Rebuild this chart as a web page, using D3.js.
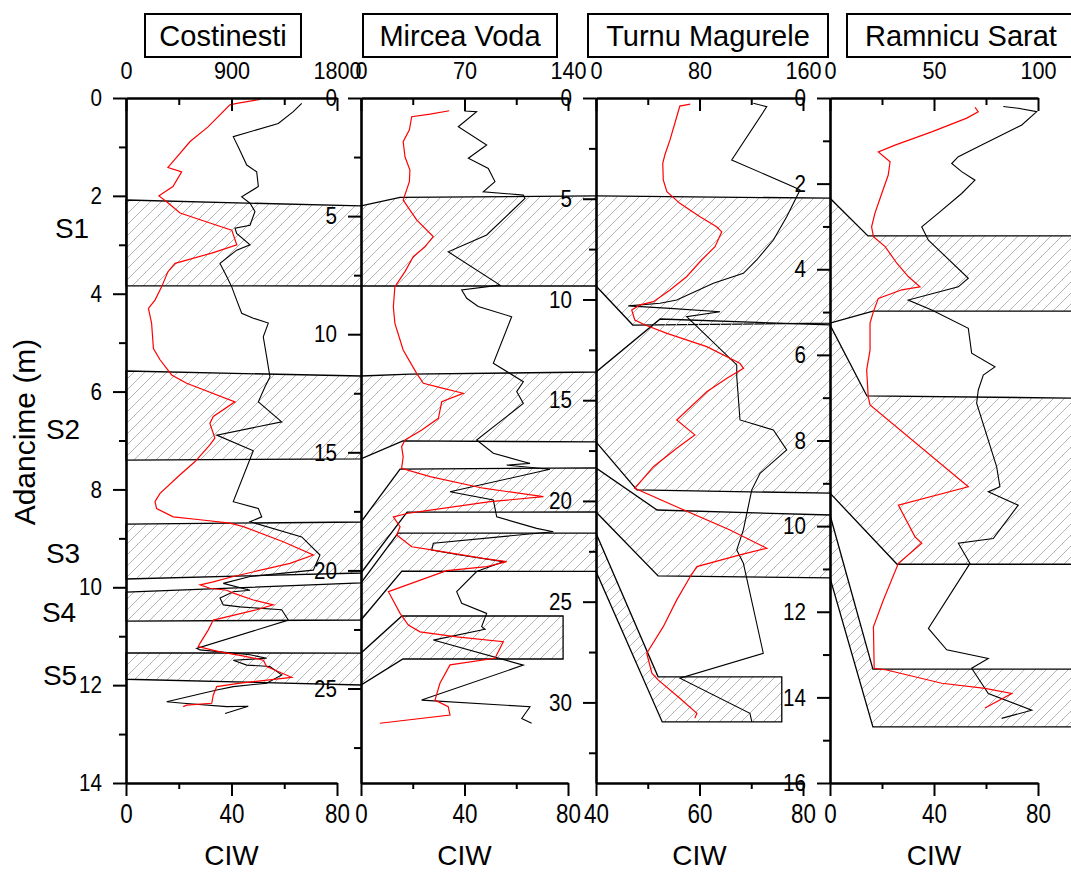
<!DOCTYPE html>
<html>
<head>
<meta charset="utf-8">
<script src="https://cdn.jsdelivr.net/npm/d3@7"></script>
<style>
  body { margin: 0; background: #fff; }
  svg { display: block; }
  text { font-family: "Liberation Sans", Arial, sans-serif; fill: #000; }
</style>
</head>
<body>
<svg id="chart" width="1071" height="872"></svg>
<script>
// sites and axes
const sites = ['Costinesti', 'Mircea Voda', 'Turnu Magurele', 'Ramnicu Sarat'];
const ciwDomains = [[0, 80], [0, 80], [40, 80], [0, 80]];
const ciwMajor = [[0, 40, 80], [0, 40, 80], [40, 60, 80], [0, 40, 80]];
const ciwMinor = [[20, 60], [20, 60], [50, 70], [20, 60]];
const topDomains = [[0, 1800], [0, 140], [0, 160], [0, 100]];
const topMajor = [[0, 900, 1800], [0, 70, 140], [0, 80, 160], [0, 50, 100]];
const topMinor = [[450, 1350], [35, 105], [40, 120], [25, 75]];
const depthMax = [14, 29, 34, 16];
const depthStep = [2, 5, 5, 2];
const layers = ['S1', 'S2', 'S3', 'S4', 'S5'];
const layerDepth = [2.66, 6.76, 9.3, 10.5, 11.79];

// series: [depth, value]; red = CIW (bottom axis), black = top axis
const costinestiRed = [[0.03,50.8],[0.11,42.0],[0.14,39.4],[0.59,31.1],[0.89,24.3],[1.30,17.8],[1.42,15.9],[1.51,21.1],[1.81,17.8],[2.00,12.5],[2.12,15.4],[2.35,20.5],[2.60,34.4],[2.70,40.1],[3.00,42.0],[3.17,32.5],[3.38,18.6],[3.55,15.9],[3.86,13.5],[4.13,11.0],[4.30,8.5],[4.60,9.7],[5.12,10.4],[5.35,12.9],[5.66,17.3],[5.83,23.0],[6.21,41.3],[6.51,33.1],[6.65,31.8],[6.95,33.7],[7.09,31.8],[7.43,26.2],[7.70,20.5],[8.08,12.9],[8.25,11.0],[8.39,11.6],[8.56,17.9],[8.62,28.1],[8.69,39.4],[8.76,44.5],[9.07,59.6],[9.34,71.0],[9.51,62.2],[9.78,40.7],[9.89,33.1],[9.95,28.1],[10.02,31.8],[10.06,38.2],[10.12,40.7],[10.26,48.3],[10.36,55.8],[10.46,49.6],[10.67,33.1],[10.87,31.2],[11.14,28.1],[11.21,27.4],[11.32,35.6],[11.39,43.2],[11.49,52.1],[11.62,53.3],[11.84,62.8],[11.93,48.3],[11.96,43.2],[12.03,34.4],[12.20,33.1],[12.37,32.5],[12.41,23.0],[12.44,21.7]];
const costinestiBlack = [[0.11,1499],[0.28,1427],[0.52,1299],[0.79,915],[1.00,958],[1.37,1030],[1.51,1115],[1.81,1129],[2.02,987],[2.15,1058],[2.32,1100],[2.60,1058],[2.66,930],[2.77,944],[3.00,1058],[3.11,944],[3.38,802],[3.65,859],[3.86,902],[4.13,944],[4.40,987],[4.50,1086],[4.60,1214],[4.88,1171],[5.29,1200],[5.70,1228],[5.90,1186],[6.21,1129],[6.62,1328],[6.89,774],[7.21,1086],[8.25,915],[8.39,1129],[8.56,1158],[8.66,1058],[8.97,1499],[9.34,1655],[9.65,1598],[9.78,1058],[9.92,830],[10.06,1058],[10.09,915],[10.22,802],[10.36,830],[10.40,973],[10.46,1328],[10.67,1385],[11.25,603],[11.28,631],[11.38,1058],[11.45,1200],[11.49,915],[11.59,1030],[11.62,1228],[11.79,1328],[11.96,1200],[12.03,915],[12.10,774],[12.34,347],[12.37,489],[12.44,859],[12.43,1043],[12.58,845]];
const mirceaRed = [[0.54,34.1],[0.68,26.7],[0.79,19.6],[1.35,18.7],[1.85,16.3],[2.49,17.0],[3.05,18.9],[3.54,18.7],[4.32,16.3],[5.16,21.5],[5.87,27.9],[6.30,24.7],[6.72,20.2],[7.35,17.0],[7.99,13.1],[8.84,12.5],[9.54,13.1],[10.67,16.3],[11.66,21.5],[12.08,24.1],[12.29,31.8],[12.50,39.5],[12.86,31.2],[13.56,29.9],[14.06,23.5],[14.48,17.0],[14.76,15.7],[15.19,16.3],[15.68,15.7],[16.03,26.7],[16.52,47.3],[16.88,70.5],[17.09,49.9],[17.47,25.4],[17.58,18.3],[17.73,12.5],[18.15,15.1],[18.50,13.8],[19.00,19.6],[19.14,27.9],[19.49,47.3],[19.63,56.3],[19.84,48.6],[20.01,33.1],[20.90,10.6],[21.82,15.1],[22.31,18.3],[22.60,22.8],[22.81,37.0],[23.02,55.0],[23.72,51.8],[24.00,34.4],[24.78,30.5],[25.49,28.6],[25.77,33.7],[26.12,34.4],[26.47,7.3]];
const mirceaBlack = [[0.22,70.3],[0.55,70.3],[0.58,78.2],[1.22,65.8],[1.99,85.0],[2.55,72.6],[2.98,86.1],[3.54,90.6],[3.97,82.7],[4.11,109.8],[4.25,110.9],[5.80,85.0],[6.51,59.0],[7.92,94.0],[8.13,68.1],[8.48,71.5],[8.83,79.3],[9.26,101.9],[11.23,89.5],[12.01,109.8],[12.43,105.3],[12.93,109.8],[14.48,78.2],[15.04,89.5],[15.47,114.3],[15.54,98.5],[15.72,127.8],[16.67,60.2],[17.02,89.5],[17.73,91.8],[18.22,118.8],[18.36,130.1],[18.85,48.9],[19.14,47.8],[19.35,67.0],[19.63,96.2],[20.05,78.2],[20.90,64.7],[21.39,68.1],[21.82,85.0],[22.38,81.6],[22.49,83.9],[22.95,48.9],[24.01,109.8],[25.49,41.0],[25.77,114.3],[26.27,108.7],[26.47,115.4]];
const turnuRed = [[0.30,58.2],[0.40,56.2],[0.93,55.6],[2.08,54.3],[2.83,53.3],[3.24,52.9],[4.07,53.0],[4.65,53.7],[5.23,56.2],[5.89,60.1],[6.39,63.3],[6.64,64.3],[7.38,63.0],[8.04,60.4],[8.87,57.5],[9.53,54.3],[10.11,51.1],[10.27,48.5],[10.52,46.9],[11.02,47.5],[11.27,49.5],[11.68,53.7],[12.34,61.4],[13.17,67.8],[13.42,68.5],[13.91,65.3],[14.58,61.4],[15.98,55.6],[16.72,59.1],[17.38,55.6],[18.30,51.1],[19.37,47.5],[20.36,56.2],[21.44,65.9],[22.35,73.0],[22.68,67.8],[23.26,59.5],[23.76,58.2],[24.91,55.6],[26.24,53.0],[27.56,49.8],[28.55,50.8],[28.88,52.0],[29.79,56.2],[30.54,59.5],[30.78,59.1]];
const turnuBlack = [[0.26,121.6],[0.43,132.0],[3.08,104.9],[4.40,152.5],[4.57,157.7],[4.90,155.1],[5.89,147.4],[7.05,137.1],[8.04,124.2],[8.70,113.9],[9.20,90.7],[10.03,62.4],[10.19,49.5],[10.32,25.0],[10.44,57.2],[10.61,95.9],[10.85,70.1],[13.25,108.8],[13.83,108.8],[15.98,111.3],[16.48,137.1],[17.47,147.4],[18.63,126.8],[19.45,120.4],[21.44,113.9],[22.43,108.8],[23.09,113.9],[27.56,129.3],[28.80,64.9],[30.54,119.0],[30.95,120.4]];
const ramnicuRed = [[0.22,55.8],[0.32,57.0],[0.47,52.6],[0.79,39.1],[1.10,25.0],[1.26,18.6],[1.49,23.1],[1.80,22.4],[2.23,19.9],[2.69,17.3],[3.01,16.0],[3.24,16.7],[3.47,21.2],[3.86,25.7],[4.17,30.1],[4.41,34.6],[4.48,27.6],[4.68,18.6],[4.99,16.7],[5.26,15.4],[5.89,15.4],[6.35,14.1],[6.98,14.7],[7.17,15.4],[9.08,53.2],[9.51,26.3],[10.25,32.7],[10.40,35.3],[10.87,26.3],[11.73,20.5],[12.35,16.7],[13.32,17.0],[13.36,21.8],[13.67,43.0],[13.79,59.6],[13.91,69.9],[14.25,59.6]];
const ramnicuBlack = [[0.20,83.3],[0.24,90.5],[0.32,99.4],[0.63,92.2],[1.10,72.9],[1.37,61.7],[1.53,58.5],[1.72,63.3],[1.92,69.7],[2.23,63.3],[2.69,52.1],[3.01,44.1],[3.32,47.3],[4.21,66.5],[4.41,61.7],[4.72,37.6],[4.95,48.9],[5.38,66.5],[5.96,68.1],[6.28,79.3],[6.47,73.7],[6.82,71.3],[7.13,70.5],[8.61,80.1],[9.08,81.7],[9.20,76.1],[9.51,90.5],[10.29,78.5],[10.40,61.7],[10.87,67.3],[12.39,47.3],[12.89,56.1],[13.09,76.1],[13.32,68.1],[13.91,76.1],[14.30,97.0],[14.49,82.5]];

const redSeries = [costinestiRed, mirceaRed, turnuRed, ramnicuRed];
const blackSeries = [costinestiBlack, mirceaBlack, turnuBlack, ramnicuBlack];

// correlation bands: vertices [panel, CIW, depth]
const bandS1 = [[0,0,2.085],[1,0,4.57],[1,15.1,4.21],[2,40,4.86],[3,0,2.34],[3,14.6,3.22],[3,95,3.22],
  [3,95,4.98],[3,16.5,4.98],[3,0,5.26],[2,47.1,11.27],[2,40,9.33],[1,0,7.96],[0,0,3.84]];
const bandS2 = [[0,0,5.58],[1,0,11.77],[1,18.9,11.69],[2,40,13.6],[2,52.4,10.97],[3,0,5.30],[3,14.2,6.96],[3,95,7.01],
  [3,95,10.89],[3,25.8,10.89],[3,0,9.23],[2,47.9,19.45],[2,40,17.07],[1,16.2,14.52],[1,0,15.28],[0,0,7.40]];
const bandS3 = [[0,0,8.71],[1,0,17.95],[1,15.1,15.71],[2,40,18.36],[2,51.8,20.45],[3,0,9.74],[3,16.5,13.34],[3,95,13.34],
  [3,95,14.69],[3,16.5,14.69],[3,0,11.21],[2,52.0,23.72],[2,40,20.55],[1,17.8,17.53],[1,0,20.11],[0,0,9.83]];
const bandS4 = [[0,0,10.10],[1,0,20.53],[1,14.3,18.42],[2,40,21.6],[2,52.0,28.73],[2,75.9,28.73],
  [2,75.9,30.97],[2,52.8,30.97],[2,40,23.5],[1,15.8,20.03],[1,0,22.10],[0,0,10.69]];
const bandS5 = [[0,0,11.34],[1,0,23.50],[1,15.8,21.93],[1,78.1,21.93],
  [1,78.1,23.75],[1,16.2,23.75],[1,0,24.85],[0,0,11.88]];
const bands = [bandS1, bandS2, bandS3, bandS4, bandS5];

// layout
const plotTop = 98, plotBottom = 783;
const panelLeft = [126, 361, 596, 830];
const panelRight = [337, 568, 803, 1038];
const titleBox = [[145, 156], [363, 194], [588, 240], [847, 228]];
const labelX = [72, 63, 63, 59, 60];

const svg = d3.select('#chart');

const xs = sites.map((s, i) => d3.scaleLinear().domain(ciwDomains[i]).range([panelLeft[i], panelRight[i]]));
const xt = sites.map((s, i) => d3.scaleLinear().domain(topDomains[i]).range([panelLeft[i], panelRight[i]]));
const ys = sites.map((s, i) => d3.scaleLinear().domain([0, depthMax[i]]).range([plotTop, plotBottom]));

// hatch pattern
const pat = svg.append('defs').append('pattern')
  .attr('id', 'hatch').attr('patternUnits', 'userSpaceOnUse')
  .attr('width', 11).attr('height', 11);
pat.append('path').attr('d', 'M-1,1 l2,-2 M0,11 l11,-11 M10,12 l2,-2')
  .attr('stroke', '#b4b4b4').attr('stroke-width', 1);

const bandLine = d3.line()
  .x(v => xs[v[0]](v[1]))
  .y(v => ys[v[0]](v[2]));

svg.append('g').selectAll('path')
  .data(bands)
  .enter().append('path')
  .attr('d', d => bandLine(d) + 'Z')
  .attr('fill', 'url(#hatch)')
  .attr('stroke', '#000')
  .attr('stroke-width', 1.3);

// data lines
sites.forEach((s, i) => {
  const redLine = d3.line().x(d => xs[i](d[1])).y(d => ys[i](d[0]));
  const blackLine = d3.line().x(d => xt[i](d[1])).y(d => ys[i](d[0]));
  svg.append('path').datum(blackSeries[i])
    .attr('d', blackLine).attr('fill', 'none')
    .attr('stroke', '#000').attr('stroke-width', 1.1);
  svg.append('path').datum(redSeries[i])
    .attr('d', redLine).attr('fill', 'none')
    .attr('stroke', '#ff0000').attr('stroke-width', 1.2);
});

// axes
function styleAxis(g, fontSize, sx, shiftX) {
  g.attr('font-family', null).attr('font-size', null);
  g.select('.domain').attr('stroke-width', 2.6);
  g.selectAll('.tick line').attr('stroke-width', 2);
  g.selectAll('.tick text')
    .style('font-size', fontSize + 'px')
    .attr('transform', `scale(${sx},1)`);
  if (shiftX) g.selectAll('.tick text').attr('x', shiftX / sx);
}

sites.forEach((s, i) => {
  const ticks = d3.range(0, depthMax[i] + 0.001, depthStep[i]);
  const minor = d3.range(depthStep[i] / 2, depthMax[i], depthStep[i]);

  svg.append('g').attr('transform', `translate(${panelLeft[i]},0)`)
    .call(d3.axisLeft(ys[i]).tickValues(minor).tickSize(7).tickSizeOuter(0).tickFormat(''))
    .call(g => { g.select('.domain').remove(); g.selectAll('line').attr('stroke-width', 2); });
  svg.append('g').attr('transform', `translate(${panelLeft[i]},0)`)
    .call(d3.axisLeft(ys[i]).tickValues(ticks).tickSize(13).tickSizeOuter(0).tickPadding(11).tickFormat(d3.format('d')))
    .call(g => styleAxis(g, 24, 0.86, -24));

  svg.append('g').attr('transform', `translate(0,${plotTop})`)
    .call(d3.axisTop(xt[i]).tickValues(topMinor[i]).tickSize(-7).tickSizeOuter(0).tickFormat(''))
    .call(g => { g.select('.domain').remove(); g.selectAll('line').attr('stroke-width', 2); });
  svg.append('g').attr('transform', `translate(0,${plotTop})`)
    .call(d3.axisTop(xt[i]).tickValues(topMajor[i]).tickSize(-13).tickSizeOuter(0).tickPadding(19).tickFormat(d3.format('d')))
    .call(g => styleAxis(g, 24, 0.9));

  svg.append('g').attr('transform', `translate(0,${plotBottom})`)
    .call(d3.axisBottom(xs[i]).tickValues(ciwMinor[i]).tickSize(6).tickSizeOuter(0).tickFormat(''))
    .call(g => { g.select('.domain').remove(); g.selectAll('line').attr('stroke-width', 2); });
  svg.append('g').attr('transform', `translate(0,${plotBottom})`)
    .call(d3.axisBottom(xs[i]).tickValues(ciwMajor[i]).tickSize(13).tickSizeOuter(0).tickPadding(7).tickFormat(d3.format('d')))
    .call(g => styleAxis(g, 28, 0.8));

  // x title
  svg.append('text')
    .attr('x', (panelLeft[i] + panelRight[i]) / 2).attr('y', 865)
    .attr('text-anchor', 'middle').style('font-size', '28px')
    .text('CIW');

  // site title box
  svg.append('rect')
    .attr('x', titleBox[i][0]).attr('y', 14)
    .attr('width', titleBox[i][1]).attr('height', 43)
    .attr('fill', '#fff').attr('stroke', '#000').attr('stroke-width', 2);
  svg.append('text')
    .attr('x', titleBox[i][0] + titleBox[i][1] / 2).attr('y', 46)
    .attr('text-anchor', 'middle').style('font-size', '29px')
    .text(s);
});

// depth title
svg.append('text')
  .attr('transform', 'translate(35,432) rotate(-90)')
  .attr('text-anchor', 'middle').style('font-size', '30px')
  .text('Adancime (m)');

// paleosol labels
svg.append('g').selectAll('text')
  .data(layers)
  .enter().append('text')
  .attr('x', (d, i) => labelX[i])
  .attr('y', (d, i) => ys[0](layerDepth[i]) + 10)
  .attr('text-anchor', 'middle')
  .style('font-size', '28px')
  .text(d => d);
</script>
</body>
</html>
